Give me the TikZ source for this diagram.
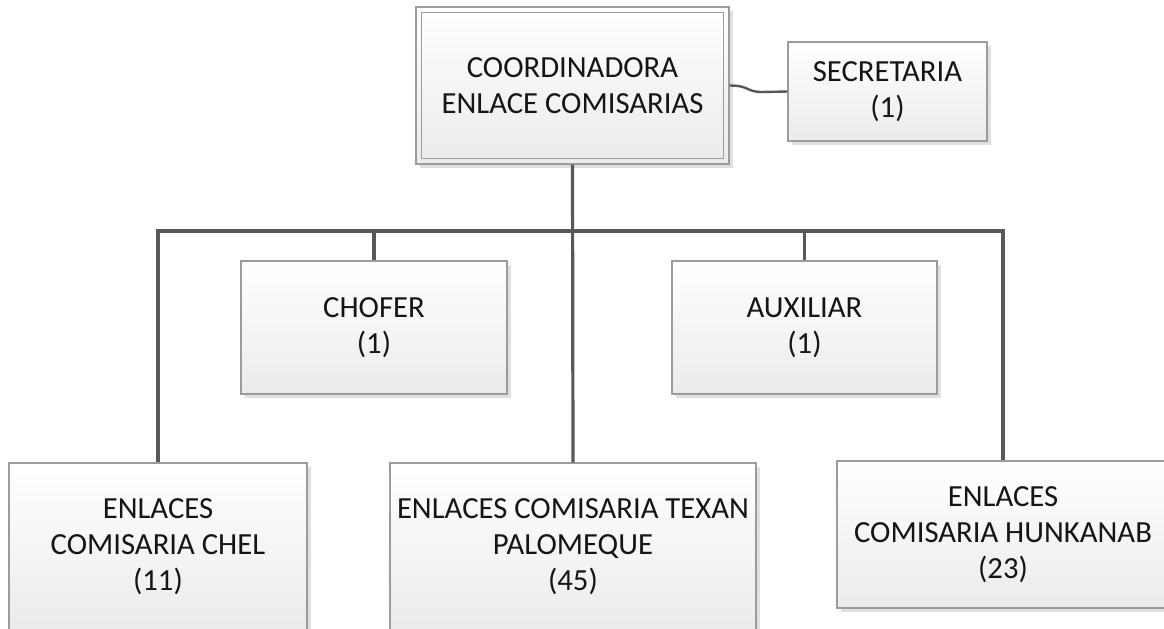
\documentclass[tikz,border=0pt]{standalone}
\usepackage{fontspec}
\setmainfont{Carlito}
\usetikzlibrary{shadows}
\definecolor{linegray}{HTML}{585858}
\definecolor{boxborder}{HTML}{9C9C9C}
\definecolor{boxbottom}{HTML}{EBEBEB}
\definecolor{txt}{HTML}{151515}
\tikzset{
  orgbox/.style={rectangle, draw=boxborder, line width=0.7pt,
    top color=white, bottom color=boxbottom, align=center, text=txt,
    font=\fontsize{15.35}{18}\selectfont, inner sep=0pt,
    drop shadow={shadow xshift=2pt, shadow yshift=-2pt, fill=black, opacity=0.12}},
  conn/.style={draw=linegray, line width=1.6pt},
  thinconn/.style={draw=linegray, line width=1.2pt}
}
\begin{document}
\begin{tikzpicture}[x=0.5pt,y=-0.5pt]
\useasboundingbox (0,0) rectangle (1164,628);
\clip (0,0) rectangle (1164,628);
% nodes
\node[orgbox, minimum width=156.5pt, minimum height=78.5pt] (coord) at (572.5,85.5) {COORDINADORA\\ENLACE COMISARIAS};
\draw[boxborder, line width=0.7pt] ([shift={(3pt,-3pt)}]coord.north west) rectangle ([shift={(-3pt,3pt)}]coord.south east);
\node[orgbox, minimum width=99.5pt, minimum height=49.5pt] (sec) at (887.5,91.5) {SECRETARIA\\(1)};
\node[orgbox, minimum width=133pt, minimum height=66.5pt] (chofer) at (374,327.5) {CHOFER\\(1)};
\node[orgbox, minimum width=132.5pt, minimum height=66.5pt] (aux) at (804.5,327.5) {AUXILIAR\\(1)};
\node[orgbox, minimum width=149pt, minimum height=84pt] (chel) at (158,547) {ENLACES\\COMISARIA CHEL\\(11)};
\node[orgbox, minimum width=183pt, minimum height=84pt] (texan) at (573,547) {ENLACES COMISARIA TEXAN\\PALOMEQUE\\(45)};
\node[orgbox, minimum width=166pt, minimum height=73.5pt] (hunk) at (1003,534.5) {ENLACES\\COMISARIA HUNKANAB\\(23)};
% connectors
\coordinate (bus) at (573,231);
\coordinate (bend) at (762,92);
\draw[conn] (chel.north) -- (chel.north |- bus) -- (hunk.north |- bus) -- (hunk.north);
\draw[conn] (coord.south) -- (texan.north);
\draw[conn] (chofer.north) -- (chofer.north |- bus);
\draw[conn] (aux.north) -- (aux.north |- bus);
\draw[thinconn] (coord.east) .. controls ++(10pt,0pt) and ++(-8pt,0pt) .. (bend) -- (sec.west);
\end{tikzpicture}
\end{document}
